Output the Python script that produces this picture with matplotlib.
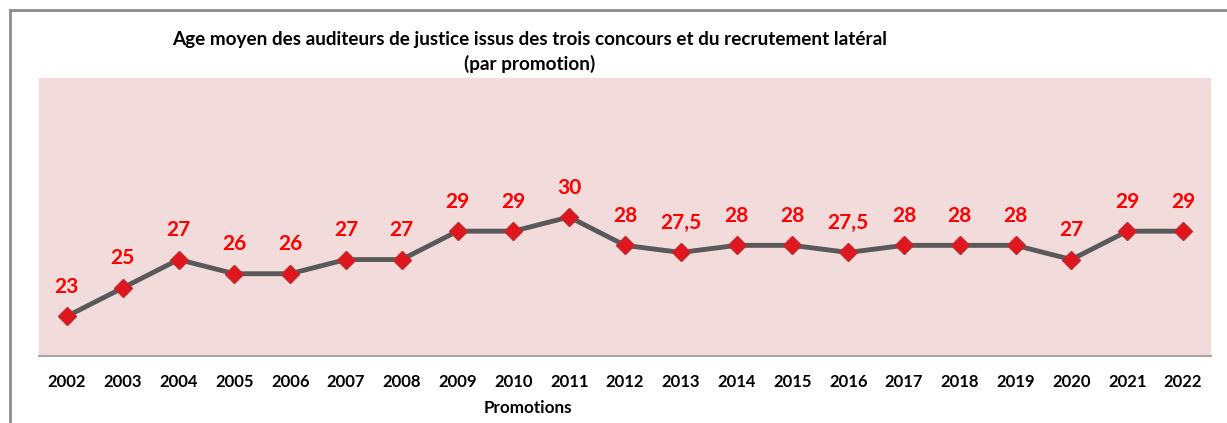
import matplotlib.pyplot as plt
from matplotlib.patches import Rectangle

years = ['2002', '2003', '2004', '2005', '2006', '2007', '2008', '2009', '2010', '2011',
         '2012', '2013', '2014', '2015', '2016', '2017', '2018', '2019', '2020', '2021', '2022']
ages = [23, 25, 27, 26, 26, 27, 27, 29, 29, 30, 28, 27.5, 28, 28, 27.5, 28, 28, 28, 27, 29, 29]
labels = ['23', '25', '27', '26', '26', '27', '27', '29', '29', '30', '28', '27,5',
          '28', '28', '27,5', '28', '28', '28', '27', '29', '29']

plt.rcParams['font.family'] = ['Lato', 'DejaVu Sans']

W, H = 1227, 423
fig = plt.figure(figsize=(W / 100, H / 100), dpi=100)
ax = fig.add_axes([39 / W, 1 - 356 / H, (1211 - 39) / W, (356 - 78) / H])

# outer frame (chart border, cut off on right and bottom)
fig.patches.append(Rectangle((10 / W, -0.1), 1.2, 1 - 10 / H + 0.1, transform=fig.transFigure,
                             fill=False, edgecolor='#8c8c8c', linewidth=2))

ax.set_facecolor('#f2dcdb')
x = list(range(len(years)))
ax.plot(x, ages, color='#595959', linewidth=3.5, zorder=2)
ax.plot(x, ages, linestyle='none', marker='D', markersize=9, markerfacecolor='#e0161f',
        markeredgecolor='#c0282d', markeredgewidth=1, zorder=3)

for xi, yi, lab in zip(x, ages, labels):
    ax.annotate(lab, (xi, yi), xytext=(0, 14), textcoords='offset points', ha='center',
                va='bottom', color='#ff0000', fontsize=15, fontweight='bold')

ax.set_xlim(-0.5, len(years) - 0.5)
ax.set_ylim(20.2, 39.8)
ax.set_yticks([])
ax.set_xticks(x)
ax.set_xticklabels(years, fontsize=12, fontweight='bold')
ax.tick_params(axis='x', length=0, pad=13)
for s in ['top', 'left', 'right']:
    ax.spines[s].set_visible(False)
ax.spines['bottom'].set_color('#a6a6a6')
ax.spines['bottom'].set_linewidth(1.5)

ax.set_xlabel('Promotions', fontsize=12.3, fontweight='bold')
ax.xaxis.set_label_coords((528 - 39) / (1211 - 39), -(408 - 356) / (356 - 78))
ax.xaxis.label.set_va('center')

fig.text(530 / W, 1 - 40 / H,
         'Age moyen des auditeurs de justice issus des trois concours et du recrutement latéral',
         ha='center', va='center', fontsize=13.6, fontweight='bold')
fig.text(530 / W, 1 - 64 / H, '(par promotion)', ha='center', va='center',
         fontsize=13.6, fontweight='bold')

fig.savefig('out.png', dpi=100)
